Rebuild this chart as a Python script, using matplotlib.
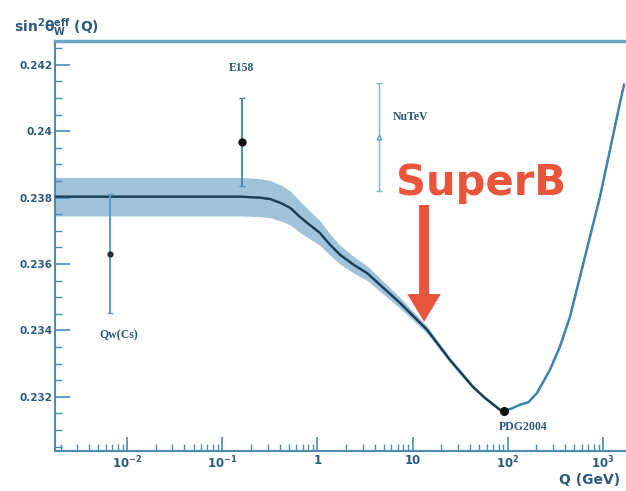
import matplotlib
matplotlib.use("Agg")
import matplotlib.pyplot as plt
import numpy as np

plt.rcParams['font.family'] = ['DejaVu Sans']
plt.rcParams['mathtext.fontset'] = 'dejavusans'

# running weak mixing angle
q_curve = [0.00175, 0.0316, 0.158, 0.25, 0.318, 0.42, 0.52, 0.656, 0.83, 1.06,
           1.36, 1.73, 2.4, 3.32, 7.38, 14.2, 24.7, 43.1, 57.5, 82.8,
           91.2, 110, 134, 165, 203, 277, 353, 450, 573, 730,
           929, 1185, 1510, 1663]
s2w_curve = [0.23803, 0.23803, 0.23803, 0.23800, 0.23796, 0.23783, 0.23769, 0.23742, 0.23718, 0.23694,
             0.23658, 0.23628, 0.23598, 0.23573, 0.23483, 0.23402, 0.23311, 0.23230, 0.23197, 0.23161,
             0.23158, 0.23165, 0.23176, 0.23184, 0.23212, 0.23281, 0.23351, 0.23441, 0.23561, 0.23682,
             0.23802, 0.23944, 0.24086, 0.24140]
# theory uncertainty band (half width), only up to the Z pole
band_half = [0.00058, 0.00058, 0.00058, 0.00057, 0.00056, 0.00054, 0.00051, 0.00047, 0.00042, 0.00037,
             0.00032, 0.00028, 0.00025, 0.00022, 0.00016, 0.00011, 0.00008, 0.00006, 0.00005, 0.00004,
             0.00004]

# measurements
meas_names = ['Qw(Cs)', 'E158', 'NuTeV', 'PDG2004']
meas_q = [0.00662, 0.161, 4.44, 91.2]
meas_val = [0.23631, 0.23968, 0.23983, 0.23158]
meas_err = [0.00179, 0.00133, 0.00163, 0.0]

# SuperB energy scale
superb_q = 13.2
superb_val = 0.23426

yticks = [0.232, 0.234, 0.236, 0.238, 0.240, 0.242]
ytick_labels = ['0.232', '0.234', '0.236', '0.238', '0.24', '0.242']
xticks = [1e-2, 1e-1, 1, 10, 1e2, 1e3]
xtick_labels = [r'$\mathbf{10^{-2}}$', r'$\mathbf{10^{-1}}$', '1', '10',
                r'$\mathbf{10^{2}}$', r'$\mathbf{10^{3}}$']

axis_col = '#4a8cb4'
text_col = '#2c5a7a'
red = '#e8553c'

fig = plt.figure(figsize=(6.26, 4.91), dpi=100)
ax = fig.add_axes([0.088, 0.0815, 0.912, 0.835])

nb = len(band_half)
q_arr = np.array(q_curve)
s_arr = np.array(s2w_curve)
hw = np.array(band_half)
ax.fill_between(q_arr[:nb], s_arr[:nb] - hw, s_arr[:nb] + hw,
                color='#9fc3da', lw=0, zorder=1)
ax.plot(q_arr, s_arr, color='#3b84ad', lw=1.8, zorder=2)
ax.plot(q_arr[:nb], s_arr[:nb], color='#1d3b50', lw=1.5, zorder=3)

# data points with error bars
styles = {
    'Qw(Cs)': dict(marker='o', ms=3.5, ecolor='#5a9cc4', mfc='#1d2d3a', mec='#1d2d3a', elinewidth=1.4),
    'E158': dict(marker='o', ms=5, ecolor='#4a8cb4', mfc='#111111', mec='#111111', elinewidth=1.4),
    'NuTeV': dict(marker='^', ms=3.5, ecolor='#7db4d6', mfc='#a8cce2', mec='#6aa2c6', elinewidth=1.0),
    'PDG2004': dict(marker='o', ms=5.5, ecolor='#111111', mfc='#111111', mec='#111111', elinewidth=1.0),
}
for name, q, v, e in zip(meas_names, meas_q, meas_val, meas_err):
    st = styles[name]
    ax.errorbar(q, v, yerr=e, fmt='none', ecolor=st['ecolor'], elinewidth=st['elinewidth'],
                capsize=2.5, capthick=1.0, zorder=4)
    ax.plot(q, v, marker=st['marker'], ms=st['ms'], mfc=st['mfc'], mec=st['mec'],
            ls='none', zorder=5)

label_offsets = {'Qw(Cs)': (6, -59), 'E158': (0, 53), 'NuTeV': (10, 14), 'PDG2004': (14, -12)}
label_align = {'Qw(Cs)': 'center', 'E158': 'center', 'NuTeV': 'left', 'PDG2004': 'center'}
for name, q, v in zip(meas_names, meas_q, meas_val):
    ax.annotate(name, xy=(q, v), xytext=label_offsets[name], textcoords='offset points',
                ha=label_align[name], va='center', fontsize=8.5, color=text_col,
                family='Liberation Serif', fontweight='bold', zorder=6)

# SuperB arrow
ax.annotate('', xy=(superb_q, superb_val), xytext=(superb_q, 0.23778),
            arrowprops=dict(arrowstyle='simple,head_length=1.0,head_width=1.2,tail_width=0.36',
                            mutation_scale=20, color=red, lw=0, shrinkA=0, shrinkB=0),
            zorder=6)
ax.text(52.5, 0.23845, 'SuperB', color=red, fontsize=30, fontweight='bold',
        ha='center', va='center', zorder=6)

ax.set_xscale('log')
ax.set_xlim(10 ** -2.756, 10 ** 3.242)
ax.set_ylim(0.23037, 0.24272)

ax.set_xticks(xticks, xtick_labels)
ax.set_yticks(yticks, ytick_labels)
ax.set_yticks(np.arange(0.2305, 0.2427, 0.0005), minor=True)
ax.xaxis.set_minor_locator(matplotlib.ticker.LogLocator(base=10, subs=np.arange(2, 10)))
ax.xaxis.set_minor_formatter(matplotlib.ticker.NullFormatter())

ax.tick_params(axis='both', which='major', direction='in', color=axis_col, width=1.2,
               labelcolor=text_col, labelsize=7.5)
ax.tick_params(axis='x', which='major', length=10, pad=2.5, labelsize=8.5)
ax.tick_params(axis='y', which='major', length=11, pad=2)
ax.tick_params(axis='both', which='minor', direction='in', color=axis_col, width=1.0, length=5)
for lab in ax.get_yticklabels() + ax.get_xticklabels():
    lab.set_fontweight('bold')

ax.spines['right'].set_visible(False)
ax.spines['top'].set_color('#6ea4c6')
ax.spines['top'].set_linewidth(2.5)
for s in ['left', 'bottom']:
    ax.spines[s].set_color(axis_col)
    ax.spines[s].set_linewidth(1.5)

fig.text(0.022, 0.944, r'$\mathbf{sin^{2}\theta^{eff}_{W}}$ $\mathbf{(Q)}$',
         fontsize=10, color=text_col, va='center')
fig.text(0.99, 0.022, 'Q (GeV)', fontsize=10, fontweight='bold', color=text_col,
         ha='right', va='center')

plt.savefig('out.png', dpi=100)
